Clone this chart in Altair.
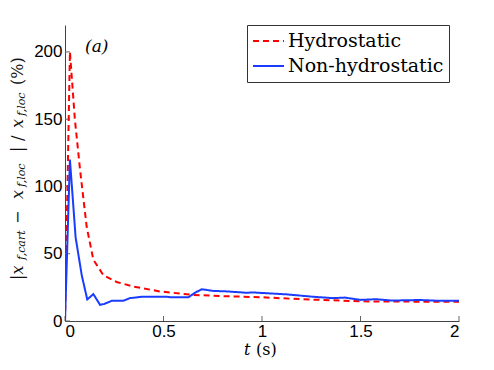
import altair as alt
import pandas as pd

t_hyd = [0.0, 0.025, 0.05, 0.076, 0.11, 0.144, 0.195, 0.262, 0.347, 0.48, 0.65, 0.8, 0.99, 1.2, 1.5, 1.75, 2.0]
v_hyd = [0.0, 200, 150, 113, 70, 45.5, 34, 29, 25.6, 22, 19.4, 18.5, 17.7, 16.2, 14.6, 14.4, 14.4]

t_non = [0.0, 0.025, 0.054, 0.085, 0.113, 0.144, 0.178, 0.2, 0.237, 0.296, 0.33, 0.389, 0.516, 0.54,
         0.626, 0.66, 0.694, 0.75, 0.82, 0.92, 0.956, 1.125, 1.26, 1.36, 1.42, 1.5, 1.58, 1.66, 1.8, 1.9, 2.0]
v_non = [0.0, 120, 62, 34, 16, 20, 12, 12.7, 15, 15, 17, 18, 18, 17.6,
         17.6, 21, 23.6, 22.4, 22, 21, 21.2, 19.8, 18, 17, 17.4, 15.7, 16.2, 15.2, 15.6, 15.0, 15.0]

x_ticks = [0, 0.5, 1, 1.5, 2]
y_ticks = [0, 50, 100, 150, 200]

series = ["Hydrostatic", "Non-hydrostatic"]
colors = ["#ff0000", "#1a3cff"]

# y-axis title pieces
ytitle_txt = ["|x", "f,cart", "−", "x", "f,loc", "|", "/", "x", "f,loc", "(%)"]
ytitle_style = ["italic", "italic", "normal", "italic", "italic", "normal", "normal", "italic", "italic", "normal"]
ytitle_size = [16, 11, 16, 16, 11, 16, 16, 16, 11, 16]
ytitle_sub = [False, True, False, False, True, False, False, False, True, False]
ytitle_start = [255, 235, 199, 174, 162, 127, 116, 103, 91, 60]

df = pd.concat([
    pd.DataFrame({"t": t_hyd, "v": v_hyd, "s": series[0]}),
    pd.DataFrame({"t": t_non, "v": v_non, "s": series[1]}),
])

xscale = alt.Scale(domain=[0, 2], nice=False)
yscale = alt.Scale(domain=[0, 220], nice=False)

lines = alt.Chart(df).mark_line(strokeWidth=2, clip=True).encode(
    x=alt.X("t:Q", scale=xscale,
            axis=alt.Axis(values=x_ticks, title=None, format="~g",
                          grid=False, ticks=False, domainColor="#444",
                          labelFont="Liberation Sans", labelFontSize=17, labelColor="black",
                          labelPadding=2)),
    y=alt.Y("v:Q", scale=yscale,
            axis=alt.Axis(values=y_ticks, grid=False, ticks=False, title=None,
                          domainColor="#444", labelFont="Liberation Sans", labelFontSize=17,
                          labelColor="black", labelPadding=3)),
    color=alt.Color("s:N", scale=alt.Scale(domain=series, range=colors),
                    legend=alt.Legend(title=None, orient="none", legendX=182, legendY=0,
                                      direction="vertical", fillColor="white", strokeColor="#333",
                                      padding=5, rowPadding=3, clipHeight=22, labelOffset=3,
                                      symbolType="stroke", symbolSize=961, symbolStrokeWidth=2,
                                      labelFont="DejaVu Serif", labelFontSize=19, labelColor="black",
                                      labelLimit=300)),
    strokeDash=alt.StrokeDash("s:N", scale=alt.Scale(domain=series, range=[[6, 4], [1, 0]]),
                              legend=None),
)

xt = alt.Chart(pd.DataFrame({"t": x_ticks})).mark_rule(color="#666", strokeWidth=1).encode(
    x=alt.X("t:Q", scale=xscale), y=alt.value(296), y2=alt.value(291))
yt = alt.Chart(pd.DataFrame({"v": y_ticks})).mark_rule(color="#666", strokeWidth=1).encode(
    y=alt.Y("v:Q", scale=yscale), x=alt.value(0), x2=alt.value(5))

label = alt.Chart(pd.DataFrame({"txt": ["(a)"]})).mark_text(
    font="DejaVu Serif", fontSize=17, fontStyle="italic", align="left", baseline="middle"
).encode(x=alt.value(20), y=alt.value(22), text="txt:N")

xtitle_t = alt.Chart(pd.DataFrame({"txt": ["t"]})).mark_text(
    font="DejaVu Serif", fontSize=16, fontStyle="italic", align="left", baseline="middle"
).encode(x=alt.value(179), y=alt.value(325), text="txt:N")
xtitle_s = alt.Chart(pd.DataFrame({"txt": ["(s)"]})).mark_text(
    font="DejaVu Serif", fontSize=16, align="left", baseline="middle"
).encode(x=alt.value(191), y=alt.value(325), text="txt:N")

ytitle_layers = []
for txt, st, sz, sub, y0 in zip(ytitle_txt, ytitle_style, ytitle_size, ytitle_sub, ytitle_start):
    ytitle_layers.append(
        alt.Chart(pd.DataFrame({"txt": [txt]})).mark_text(
            font="DejaVu Serif", fontSize=sz, fontStyle=st, angle=270,
            align="left", baseline="middle", color="#111"
        ).encode(x=alt.value(-43 if sub else -47), y=alt.value(y0), text="txt:N")
    )

chart = alt.layer(xt, yt, lines, label, xtitle_t, xtitle_s, *ytitle_layers).properties(
    width=394, height=296,
    autosize=alt.AutoSizeParams(type="none"),
    padding={"left": 57, "top": 17, "right": 20, "bottom": 40},
).configure_view(stroke=None)

chart.save("out.html", embed_options={"renderer": "svg", "actions": False})
